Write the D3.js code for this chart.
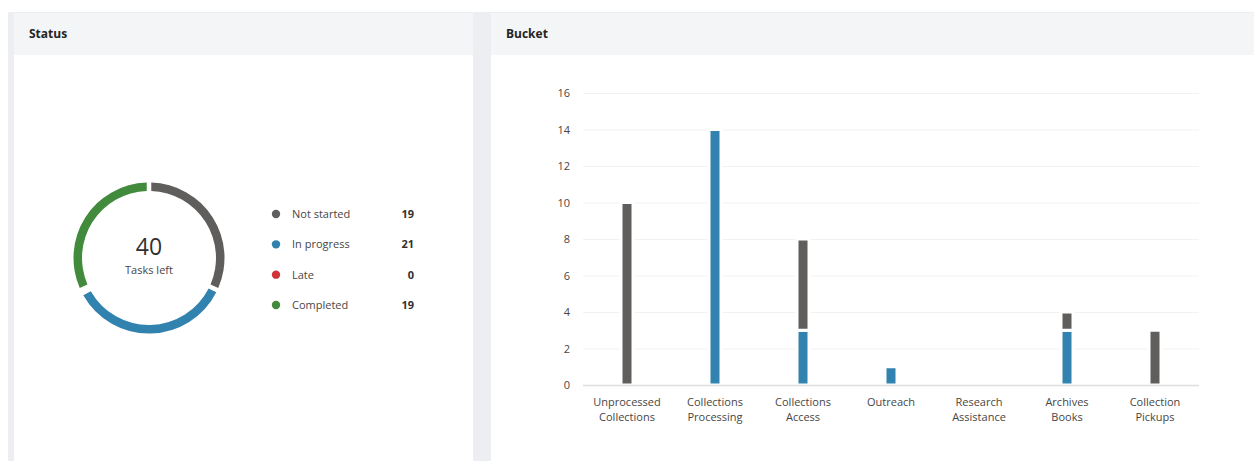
<!DOCTYPE html>
<html>
<head>
<meta charset="utf-8">
<script src="https://cdn.jsdelivr.net/npm/d3@7"></script>
<style>
  html, body { margin: 0; padding: 0; background: #ffffff; }
  svg { display: block; font-family: "Open Sans", "Noto Sans", sans-serif; }
</style>
</head>
<body>
<svg id="chart" width="1256" height="461"></svg>
<script>
// ---- data ----
const statusLabels = ["Not started", "In progress", "Late", "Completed"];
const statusValues = [19, 21, 0, 19];
const statusColors = ["#605e5c", "#3282b0", "#d13438", "#428a3c"];
const tasksLeft = 40;

const buckets = [
  ["Unprocessed", "Collections"],
  ["Collections", "Processing"],
  ["Collections", "Access"],
  ["Outreach"],
  ["Research", "Assistance"],
  ["Archives", "Books"],
  ["Collection", "Pickups"]
];
const inProgress = [0, 14, 3, 1, 0, 3, 0];
const notStarted = [10, 0, 5, 0, 0, 1, 3];
const yTicks = [0, 2, 4, 6, 8, 10, 12, 14, 16];

const svg = d3.select("#chart");

// ---- panels ----
svg.append("rect").attr("x", 8).attr("y", 12).attr("width", 6).attr("height", 449).attr("fill", "#eceef1");
svg.append("rect").attr("x", 473).attr("y", 12).attr("width", 18).attr("height", 449).attr("fill", "#eceef1");
svg.append("rect").attr("x", 14).attr("y", 12).attr("width", 459).attr("height", 43).attr("fill", "#f4f5f7");
svg.append("rect").attr("x", 491).attr("y", 12).attr("width", 763).attr("height", 43).attr("fill", "#f4f5f7");
svg.append("line").attr("x1", 8).attr("x2", 1254).attr("y1", 12.5).attr("y2", 12.5).attr("stroke", "#eceef1");
svg.append("text").attr("x", 29).attr("y", 38).attr("font-size", 12).attr("font-weight", 700).attr("fill", "#252423").text("Status");
svg.append("text").attr("x", 506).attr("y", 38).attr("font-size", 12).attr("font-weight", 700).attr("fill", "#252423").text("Bucket");

// ---- donut ----
const cx = 149, cy = 258;
const pie = d3.pie().sort(null).value(d => d).padAngle(0.045);
const arc = d3.arc().innerRadius(67).outerRadius(75.5);
const g = svg.append("g").attr("transform", `translate(${cx},${cy})`);
g.selectAll("path").data(pie(statusValues)).join("path")
  .attr("d", arc).attr("fill", (d, i) => statusColors[i]);
g.append("text").attr("text-anchor", "middle").attr("y", -3).attr("font-size", 23).attr("fill", "#323130").text(tasksLeft);
g.append("text").attr("text-anchor", "middle").attr("y", 16).attr("font-size", 11).attr("fill", "#484644").text("Tasks left");

// ---- legend ----
const legY = d3.scalePoint().domain(statusLabels).range([214, 305]);
const leg = svg.append("g");
statusLabels.forEach((lab, i) => {
  const y = legY(lab);
  leg.append("circle").attr("cx", 276).attr("cy", y).attr("r", 4.2).attr("fill", statusColors[i]);
  leg.append("text").attr("x", 292).attr("y", y + 4).attr("font-size", 11).attr("fill", "#484644").text(lab);
  leg.append("text").attr("x", 414).attr("y", y + 4).attr("text-anchor", "end").attr("font-size", 11).attr("font-weight", 700).attr("fill", "#323130").text(statusValues[i]);
});

// ---- bar chart ----
const x = d3.scaleBand().domain(buckets.map(b => b.join(" "))).range([583, 1199]);
const y = d3.scaleLinear().domain([0, 16]).range([385, 93]);

const grid = svg.append("g");
yTicks.forEach(t => {
  if (t !== 0) {
    grid.append("line").attr("x1", 583).attr("x2", 1199).attr("y1", y(t) + 0.5).attr("y2", y(t) + 0.5)
      .attr("stroke", "#f3f2f1").attr("stroke-width", 1);
  }
  grid.append("text").attr("x", 570).attr("y", y(t) + 4).attr("text-anchor", "end")
    .attr("font-size", 11).attr("fill", "#484644").text(t);
});

const bw = 12;
const bars = svg.append("g");
buckets.forEach((b, i) => {
  const cxB = x(b.join(" ")) + x.bandwidth() / 2;
  if (inProgress[i] > 0) {
    bars.append("rect").attr("x", cxB - bw / 2).attr("y", y(inProgress[i]))
      .attr("width", bw).attr("height", y(0) - y(inProgress[i]))
      .attr("fill", statusColors[1]).attr("stroke", "#fff").attr("stroke-width", 3);
  }
  if (notStarted[i] > 0) {
    const top = inProgress[i] + notStarted[i];
    bars.append("rect").attr("x", cxB - bw / 2).attr("y", y(top))
      .attr("width", bw).attr("height", y(inProgress[i]) - y(top))
      .attr("fill", statusColors[0]).attr("stroke", "#fff").attr("stroke-width", 3);
  }
  const t = svg.append("text").attr("text-anchor", "middle").attr("font-size", 11).attr("fill", "#484644");
  b.forEach((line, j) => {
    t.append("tspan").attr("x", cxB).attr("y", 406 + j * 15).text(line);
  });
});
svg.append("line").attr("x1", 583).attr("x2", 1199).attr("y1", y(0) + 0.5).attr("y2", y(0) + 0.5)
  .attr("stroke", "#e1dfdd").attr("stroke-width", 1.5);
</script>
</body>
</html>
